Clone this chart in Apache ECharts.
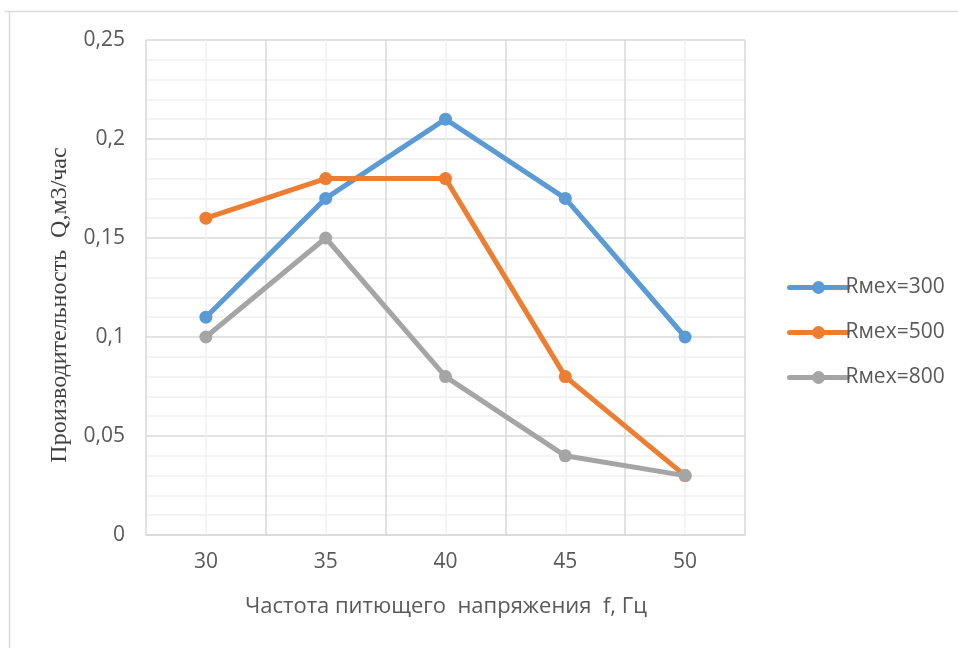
<!DOCTYPE html>
<html>
<head>
<meta charset="utf-8">
<script src="https://cdn.jsdelivr.net/npm/echarts@6/dist/echarts.min.js"></script>
<style>
  html, body { margin: 0; padding: 0; background: #fff; }
  #chart { width: 958px; height: 648px; }
</style>
</head>
<body>
<div id="chart"></div>
<script>
// Supply frequency, Hz
const frequencies = [30, 35, 40, 45, 50];
// Throughput Q, m3/h, for each Rmex value
const seriesNames = ['Rмех=300', 'Rмех=500', 'Rмех=800'];
const rmex300 = [0.11, 0.17, 0.21, 0.17, 0.10];
const rmex500 = [0.16, 0.18, 0.18, 0.08, 0.03];
const rmex800 = [0.10, 0.15, 0.08, 0.04, 0.03];
const yTicks = [0, 0.05, 0.1, 0.15, 0.2, 0.25];

const xTitle = 'Частота питющего  напряжения  f, Гц';
const yTitle = 'Производительность  Q,м3/час';

const colors = ['#5b9bd5', '#ed7d31', '#a5a5a5'];
const values = [rmex300, rmex500, rmex800];

const chart = echarts.init(document.getElementById('chart'), null, { renderer: 'canvas' });

const series = values.map((vals, i) => ({
  name: seriesNames[i],
  type: 'line',
  data: frequencies.map((f, j) => [f, vals[j]]),
  symbol: 'circle',
  symbolSize: 13,
  lineStyle: { width: 5, color: colors[i], cap: 'round', join: 'round' },
  itemStyle: { color: colors[i] },
  z: 3 + i
}));

chart.setOption({
  animation: false,
  backgroundColor: '#ffffff',
  color: colors,
  graphic: [
    { type: 'line', shape: { x1: 5, y1: 11.5, x2: 958, y2: 11.5 }, style: { stroke: '#d9d9d9', lineWidth: 1.5 } },
    { type: 'line', shape: { x1: 9.5, y1: 11.5, x2: 9.5, y2: 648 }, style: { stroke: '#d9d9d9', lineWidth: 1.5 } },
    {
      type: 'text', x: 446, y: 607,
      style: { text: xTitle, font: '22px "Open Sans"', fill: '#595959', align: 'center', verticalAlign: 'middle' }
    },
    {
      type: 'text', x: 60, y: 305, rotation: Math.PI / 2,
      style: { text: yTitle, font: '24px "Liberation Serif"', fill: '#404040', align: 'center', verticalAlign: 'middle' }
    }
  ],
  grid: { left: 146, right: 213, top: 40, bottom: 113, containLabel: false },
  legend: {
    orient: 'vertical',
    left: 782,
    top: 272,
    itemWidth: 58,
    itemHeight: 16,
    itemGap: 24,
    itemStyle: { borderWidth: 0 },
    lineStyle: { width: 5, cap: 'round' },
    textStyle: { fontFamily: 'Open Sans', fontSize: 21, color: '#595959', padding: [0, 0, 0, -7] },
    data: seriesNames
  },
  xAxis: {
    type: 'value',
    min: 27.5,
    max: 52.5,
    interval: 2.5,
    axisLine: { show: true, lineStyle: { color: '#d9d9d9', width: 1.5 } },
    axisTick: { show: false },
    axisLabel: {
      fontFamily: 'Open Sans', fontSize: 21, color: '#595959', margin: 17,
      formatter: v => (frequencies.includes(v) ? String(v) : ''),
      showMinLabel: false, showMaxLabel: false
    },
    splitLine: { show: true, lineStyle: { color: ['#d9d9d9', '#f0f0f0'], width: 1.5 } }
  },
  yAxis: {
    type: 'value',
    min: yTicks[0],
    max: yTicks[yTicks.length - 1],
    interval: 0.05,
    axisLine: { show: false },
    axisTick: { show: false },
    axisLabel: {
      fontFamily: 'Open Sans', fontSize: 21, color: '#595959', margin: 21,
      formatter: v => String(Math.round(v * 100) / 100).replace('.', ',')
    },
    splitLine: { show: true, lineStyle: { color: '#d9d9d9', width: 1.5 } },
    minorTick: { show: false, splitNumber: 5 },
    minorSplitLine: { show: true, lineStyle: { color: '#f0f0f0', width: 1.5 } }
  },
  series: series
});
</script>
</body>
</html>
